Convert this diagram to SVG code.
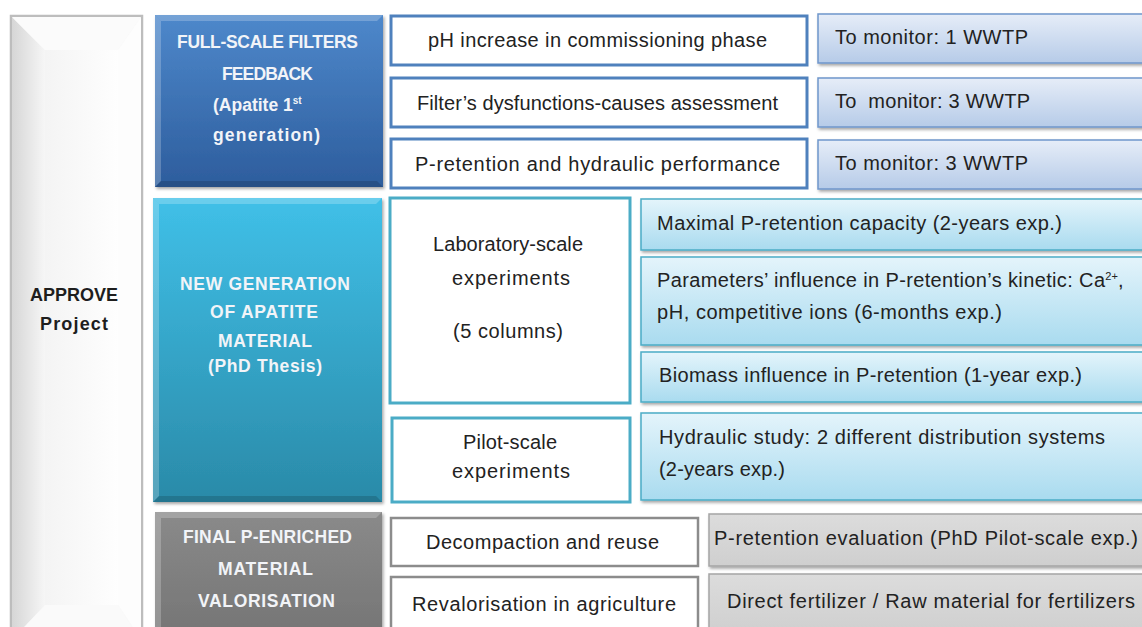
<svg xmlns="http://www.w3.org/2000/svg" width="1142" height="627" viewBox="0 0 1142 627">
<defs>
<linearGradient id="gBlue" x1="0" y1="0" x2="0" y2="1"><stop offset="0" stop-color="#4e88cb"/><stop offset="1" stop-color="#2d5d9d"/></linearGradient>
<linearGradient id="gCyan" x1="0" y1="0" x2="0" y2="1"><stop offset="0" stop-color="#40c0e8"/><stop offset="1" stop-color="#2a8aa8"/></linearGradient>
<linearGradient id="gGray" x1="0" y1="0" x2="0" y2="1"><stop offset="0" stop-color="#8a8a8a"/><stop offset="1" stop-color="#747474"/></linearGradient>
<linearGradient id="gMon" x1="0" y1="0" x2="0" y2="1"><stop offset="0" stop-color="#e6edf8"/><stop offset="1" stop-color="#b6cbe8"/></linearGradient>
<linearGradient id="gLb" x1="0" y1="0" x2="0" y2="1"><stop offset="0" stop-color="#e4f4fb"/><stop offset="1" stop-color="#a9dbef"/></linearGradient>
<linearGradient id="gLg" x1="0" y1="0" x2="0" y2="1"><stop offset="0" stop-color="#dcdcdc"/><stop offset="1" stop-color="#cfcfcf"/></linearGradient>
<linearGradient id="gSide" x1="0" y1="0" x2="1" y2="0"><stop offset="0" stop-color="#d6d6d6"/><stop offset="1" stop-color="#f6f6f6"/></linearGradient>
<linearGradient id="gFace" x1="0" y1="0" x2="1" y2="0"><stop offset="0" stop-color="#f4f4f4"/><stop offset="1" stop-color="#fefefe"/></linearGradient>
<filter id="sh" x="-5%" y="-10%" width="115%" height="130%"><feDropShadow dx="1.5" dy="2" stdDeviation="1.5" flood-color="#000" flood-opacity="0.35"/></filter>
</defs>
<style>
.hd{font-family:"Liberation Sans",Arial,sans-serif;font-weight:bold;font-size:17.5px;fill:#f2f4f8}
.ap{font-family:"Liberation Sans",Arial,sans-serif;font-weight:bold;font-size:18px;fill:#1e1e1e}
.tx{font-family:"Liberation Sans",Arial,sans-serif;font-size:20px;fill:#222}
.pre{white-space:pre}
.b2{fill:#fff;stroke:#4f81bd;stroke-width:3}
.mon{fill:url(#gMon);stroke:#6f96cb;stroke-width:1.5}
.c2{fill:#fff;stroke:#4bacc6;stroke-width:3}
.lb{fill:url(#gLb);stroke:#4bacc6;stroke-width:1.5}
.g2{fill:#fff;stroke:#8c8c8c;stroke-width:2.5}
.lg{fill:url(#gLg);stroke:#a5a5a5;stroke-width:1.5}
.hl{fill:#fff;opacity:0.22}
.dk{fill:#000;opacity:0.15}
</style>
<rect width="1142" height="627" fill="#fff"/>

<g id="approve">
<rect x="11" y="16" width="131" height="630" fill="#f6f6f6" stroke="#bdbdbd" stroke-width="2.5"/>
<polygon points="12,17 45,50 45,605 12,640" fill="url(#gSide)"/>
<polygon points="12,17 141,17 118,50 45,50" fill="#fbfbfb"/>
<polygon points="141,17 141,640 118,605 118,50" fill="#fdfdfd"/>
<polygon points="45,605 118,605 141,640 12,640" fill="#fafafa"/>
<rect x="45" y="50" width="73" height="555" fill="url(#gFace)"/>
<text class="ap" x="30" y="301" textLength="88">APPROVE</text>
<text class="ap" x="40" y="330" textLength="68">Project</text>
</g>

<g id="fullscale">
<rect x="155" y="15" width="228" height="172" fill="url(#gBlue)" filter="url(#sh)"/>
<polygon class="hl" points="155,15 383,15 377,21 161,21"/>
<polygon class="hl" points="155,15 161,21 161,181 155,187"/>
<polygon class="dk" points="155,187 161,181 377,181 383,187"/>
<text class="hd" x="177" y="48" textLength="181">FULL-SCALE FILTERS</text>
<text class="hd" x="222" y="80" textLength="91">FEEDBACK</text>
<text class="hd" x="213" y="111">(Apatite 1<tspan font-size="10" dy="-7">st</tspan></text>
<text class="hd" x="213" y="141" textLength="107">generation)</text>
</g>

<g id="ph"><rect class="b2" x="391" y="16" width="416" height="49"/><text class="tx" x="428" y="47" textLength="339">pH increase in commissioning phase</text></g>
<g id="dysf"><rect class="b2" x="391" y="78" width="416" height="49"/><text class="tx" x="417" y="110" textLength="361">Filter’s dysfunctions-causes assessment</text></g>
<g id="pret"><rect class="b2" x="391" y="139" width="416" height="49"/><text class="tx" x="415" y="171" textLength="365">P-retention and hydraulic performance</text></g>

<g id="mon1"><rect class="mon" x="818" y="14" width="340" height="49" filter="url(#sh)"/><text class="tx" x="835" y="44" textLength="193">To monitor: 1 WWTP</text></g>
<g id="mon2"><rect class="mon" x="818" y="78" width="340" height="49" filter="url(#sh)"/><text class="tx pre" x="835" y="108" textLength="195">To  monitor: 3 WWTP</text></g>
<g id="mon3"><rect class="mon" x="818" y="140" width="340" height="49" filter="url(#sh)"/><text class="tx" x="835" y="170" textLength="193">To monitor: 3 WWTP</text></g>

<g id="newgen">
<rect x="153" y="198" width="229" height="304" fill="url(#gCyan)" filter="url(#sh)"/>
<polygon class="hl" points="153,198 382,198 376,204 159,204"/>
<polygon class="hl" points="153,198 159,204 159,496 153,502"/>
<polygon class="dk" points="153,502 159,496 376,496 382,502"/>
<text class="hd" x="180" y="290" textLength="170">NEW GENERATION</text>
<text class="hd" x="210" y="318" textLength="108">OF APATITE</text>
<text class="hd" x="218" y="347" textLength="94">MATERIAL</text>
<text class="hd" x="208" y="372" textLength="114">(PhD Thesis)</text>
</g>

<g id="lab"><rect class="c2" x="390" y="198" width="240" height="205"/>
<text class="tx" x="433" y="251" textLength="150">Laboratory-scale</text>
<text class="tx" x="452" y="285" textLength="118">experiments</text>
<text class="tx" x="453" y="338" textLength="110">(5 columns)</text></g>
<g id="pilot"><rect class="c2" x="392" y="418" width="238" height="84"/>
<text class="tx" x="463" y="449" textLength="94">Pilot-scale</text>
<text class="tx" x="452" y="478" textLength="118">experiments</text></g>

<g id="maxp"><rect class="lb" x="641" y="199" width="520" height="51" filter="url(#sh)"/><text class="tx" x="657" y="230" textLength="405">Maximal P-retention capacity (2-years exp.)</text></g>
<g id="params"><rect class="lb" x="641" y="257" width="520" height="88" filter="url(#sh)"/>
<text class="tx" x="657" y="287"><tspan textLength="448">Parameters’ influence in P-retention’s kinetic: Ca</tspan><tspan font-size="11" dy="-7">2+</tspan><tspan dy="7">,</tspan></text>
<text class="tx" x="657" y="319" textLength="345">pH, competitive ions (6-months exp.)</text></g>
<g id="biomass"><rect class="lb" x="641" y="352" width="520" height="50" filter="url(#sh)"/><text class="tx" x="659" y="382" textLength="423">Biomass influence in P-retention (1-year exp.)</text></g>
<g id="hydro"><rect class="lb" x="641" y="413" width="520" height="87" filter="url(#sh)"/>
<text class="tx" x="659" y="444" textLength="446">Hydraulic study: 2 different distribution systems</text>
<text class="tx" x="659" y="476" textLength="126">(2-years exp.)</text></g>

<g id="final">
<rect x="155" y="512" width="227" height="130" fill="url(#gGray)" filter="url(#sh)"/>
<polygon class="hl" points="155,512 382,512 376,518 161,518"/>
<polygon class="hl" points="155,512 161,518 161,642 155,642"/>
<text class="hd" x="183" y="543" textLength="169">FINAL P-ENRICHED</text>
<text class="hd" x="218" y="575" textLength="95">MATERIAL</text>
<text class="hd" x="198" y="607" textLength="137">VALORISATION</text>
</g>

<g id="decomp"><rect class="g2" x="391" y="518" width="307" height="48"/><text class="tx" x="426" y="549" textLength="233">Decompaction and reuse</text></g>
<g id="reval"><rect class="g2" x="391" y="577" width="307" height="60"/><text class="tx" x="412" y="611" textLength="264">Revalorisation in agriculture</text></g>
<g id="peval"><rect class="lg" x="709" y="514" width="450" height="52" filter="url(#sh)"/><text class="tx" x="714" y="545" textLength="424">P-retention evaluation (PhD Pilot-scale exp.)</text></g>
<g id="fert"><rect class="lg" x="709" y="574" width="450" height="60" filter="url(#sh)"/><text class="tx" x="727" y="608" textLength="408">Direct fertilizer / Raw material for fertilizers</text></g>

<g id="connectors"/>
</svg>
